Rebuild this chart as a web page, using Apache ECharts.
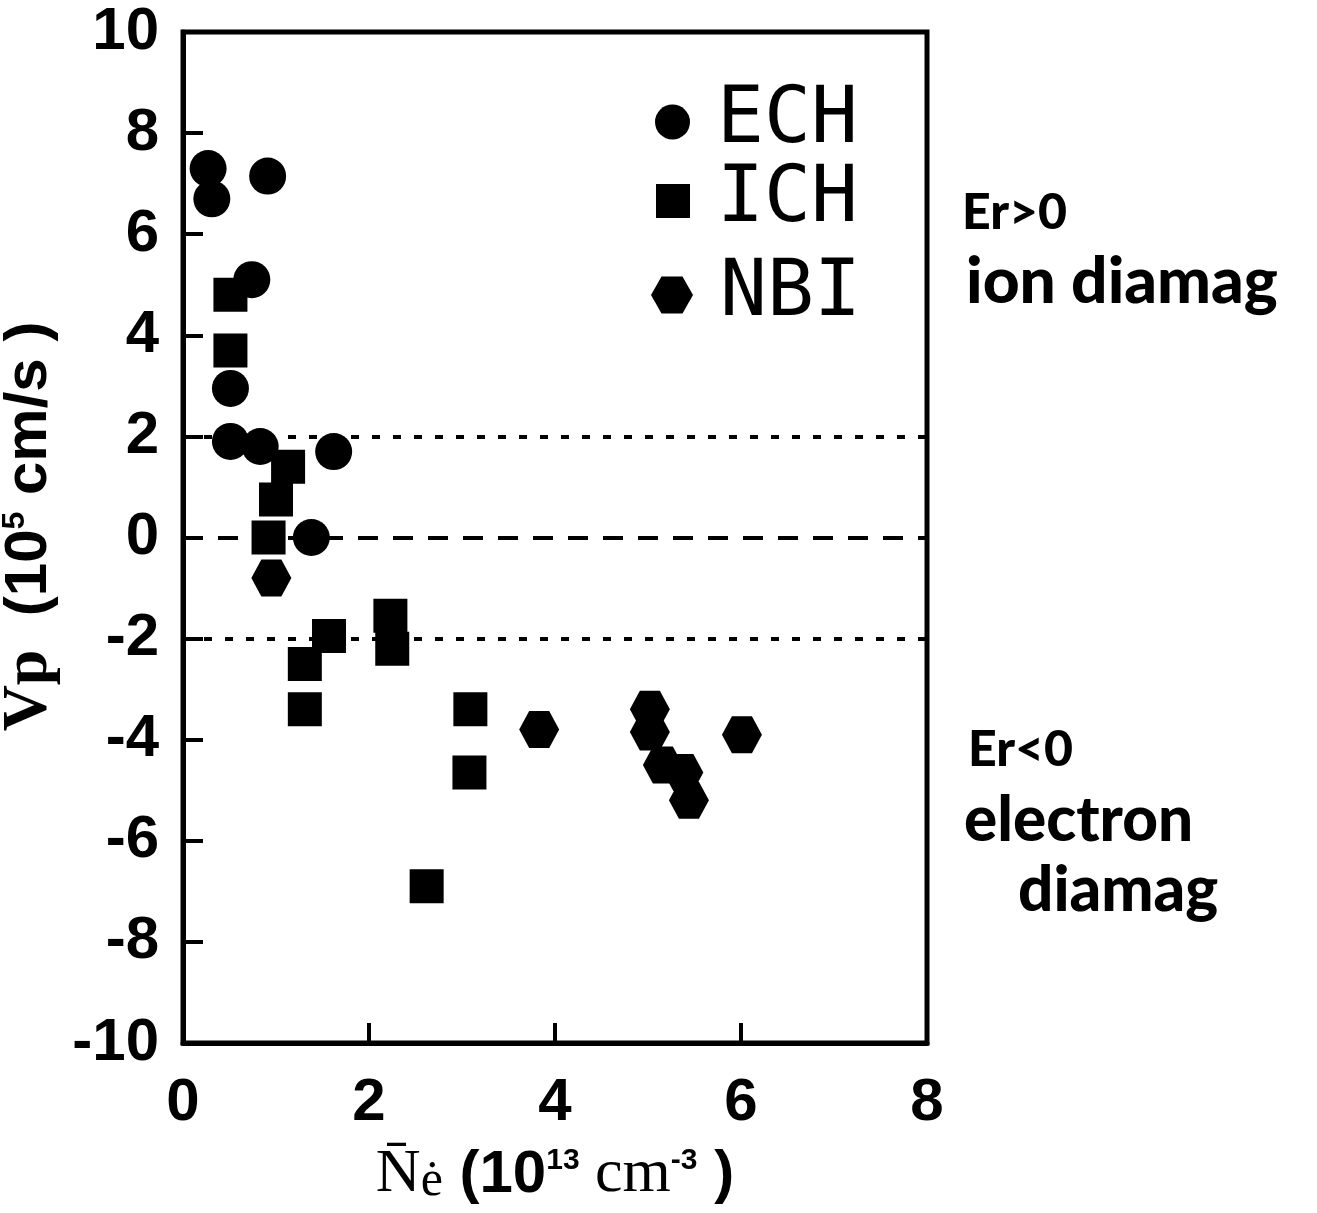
<!DOCTYPE html>
<html>
<head>
<meta charset="utf-8">
<script src="https://cdn.jsdelivr.net/npm/echarts@6/dist/echarts.min.js"></script>
<style>
html,body{margin:0;padding:0;background:#fff;}
#chart{width:1317px;height:1213px;}
</style>
</head>
<body>
<div id="chart"></div>
<script>
// ---- data ----
const echData = [[0.27,7.3],[0.31,6.7],[0.91,7.15],[0.74,5.1],[0.51,2.95],[0.51,1.9],[0.83,1.8],[1.62,1.7],[1.38,0.0]];
const ichData = [[0.51,4.8],[0.51,3.7],[1.13,1.4],[1.0,0.75],[0.92,0.0],[1.57,-1.95],[1.31,-2.5],[1.31,-3.4],[2.23,-1.55],[2.25,-2.2],[3.09,-3.4],[3.08,-4.65],[2.62,-6.9]];
const nbiData = [[0.95,-0.8],[3.83,-3.8],[5.02,-3.4],[5.02,-3.85],[5.16,-4.5],[5.38,-4.65],[5.44,-5.2],[6.01,-3.9]];
const seriesNames = ['ECH','ICH','NBI'];
const dottedLevels = [2,-2];
const dashedLevels = [0];
const xTicks = {min:0,max:8,interval:2};
const yTicks = {min:-10,max:10,interval:2};
const notesUpper = ['Er>0','ion diamag'];
const notesLower = ['Er<0','electron','diamag'];

const hexPath = 'path://M0,50 L25,6 L75,6 L100,50 L75,94 L25,94 Z';
const chart = echarts.init(document.getElementById('chart'));
const legendText = {fontFamily:'DejaVu Sans Mono',fontSize:78,color:'#000',lineHeight:78,padding:[0,0,0,22]};

const markData = dottedLevels.map(v=>({yAxis:v,lineStyle:{type:[8,13],width:4,color:'#000'}}))
  .concat(dashedLevels.map(v=>({yAxis:v,lineStyle:{type:[20,15],width:4,color:'#000'}})));

const option = {
  backgroundColor:'#fff',
  animation:false,
  grid:{left:183,right:390,top:32,bottom:170,outerBoundsMode:'none',containLabel:false,show:true,borderColor:'#000',borderWidth:5,backgroundColor:'transparent'},
  xAxis:{type:'value',min:xTicks.min,max:xTicks.max,interval:xTicks.interval,
    axisLine:{show:true,onZero:false,lineStyle:{color:'#000',width:5}},
    axisTick:{show:true,inside:true,length:20,lineStyle:{color:'#000',width:4}},
    axisLabel:{color:'#000',fontFamily:'Liberation Sans',fontWeight:'bold',fontSize:60,margin:30},
    splitLine:{show:false},
    name:'{nn|N\u0304}{ee|\u0117}{sa| (10}{up|13}{cm| cm}{up|-3}{sa| )}',
    nameLocation:'middle',nameGap:100,
    nameTextStyle:{color:'#000',fontFamily:'Liberation Sans',fontWeight:'bold',fontSize:60,rich:{
      nn:{fontFamily:'Liberation Serif',fontWeight:'normal',fontSize:62,color:'#000'},
      ee:{fontFamily:'Liberation Serif',fontWeight:'normal',fontSize:50,color:'#000',padding:[14,0,0,0]},
      sa:{fontFamily:'Liberation Sans',fontWeight:'bold',fontSize:60,color:'#000'},
      cm:{fontFamily:'Liberation Serif',fontWeight:'normal',fontSize:62,color:'#000'},
      up:{fontFamily:'Liberation Sans',fontWeight:'bold',fontSize:30,color:'#000',padding:[0,0,28,0]}
    }}
  },
  yAxis:{type:'value',min:yTicks.min,max:yTicks.max,interval:yTicks.interval,
    axisLine:{show:true,onZero:false,lineStyle:{color:'#000',width:5}},
    axisTick:{show:true,inside:true,length:20,lineStyle:{color:'#000',width:4}},
    axisLabel:{color:'#000',fontFamily:'Liberation Sans',fontWeight:'bold',fontSize:60,margin:24},
    splitLine:{show:false},
    name:'{vp|Vp}  {sa|(10}{up|5}{sa| cm/s )}',
    nameLocation:'middle',nameRotate:90,nameGap:118,
    nameTextStyle:{color:'#000',fontFamily:'Liberation Sans',fontWeight:'bold',fontSize:60,padding:[0,0,0,22],rich:{
      vp:{fontFamily:'Liberation Serif',fontWeight:'bold',fontSize:64,color:'#000'},
      sa:{fontFamily:'Liberation Sans',fontWeight:'bold',fontSize:60,color:'#000'},
      up:{fontFamily:'Liberation Sans',fontWeight:'bold',fontSize:32,color:'#000',padding:[0,0,28,0]}
    }}
  },
  legend:[
    {data:[seriesNames[0]],left:650,top:78,itemWidth:35,itemHeight:35,icon:'circle',textStyle:legendText,selectedMode:false},
    {data:[seriesNames[1]],left:651,top:157,itemWidth:34,itemHeight:34,icon:'rect',textStyle:legendText,selectedMode:false},
    {data:[seriesNames[2]],left:646,top:251,itemWidth:42,itemHeight:40,icon:hexPath,textStyle:legendText,selectedMode:false}
  ],
  graphic:[
    {type:'text',left:962,top:188,style:{text:notesUpper[0],font:'900 50px Lato',fill:'#000'}},
    {type:'text',left:966,top:250,style:{text:notesUpper[1],font:'900 64px Lato',fill:'#000'}},
    {type:'text',left:968,top:725,style:{text:notesLower[0],font:'900 50px Lato',fill:'#000'}},
    {type:'text',left:964,top:790,style:{text:notesLower[1],font:'900 62px Lato',fill:'#000'}},
    {type:'text',left:1018,top:860,style:{text:notesLower[2],font:'900 62px Lato',fill:'#000'}}
  ],
  series:[
    {type:'line',name:'refs',data:[],z:1,silent:true,
      markLine:{silent:true,symbol:['none','none'],label:{show:false},data:markData}},
    {type:'scatter',name:seriesNames[0],data:echData,symbol:'circle',symbolSize:37,z:3,itemStyle:{color:'#000',opacity:1}},
    {type:'scatter',name:seriesNames[1],data:ichData,symbol:'rect',symbolSize:34,z:3,itemStyle:{color:'#000',opacity:1}},
    {type:'scatter',name:seriesNames[2],data:nbiData,symbol:hexPath,symbolSize:[40,37],z:3,itemStyle:{color:'#000',opacity:1}}
  ]
};
chart.setOption(option);
</script>
</body>
</html>
